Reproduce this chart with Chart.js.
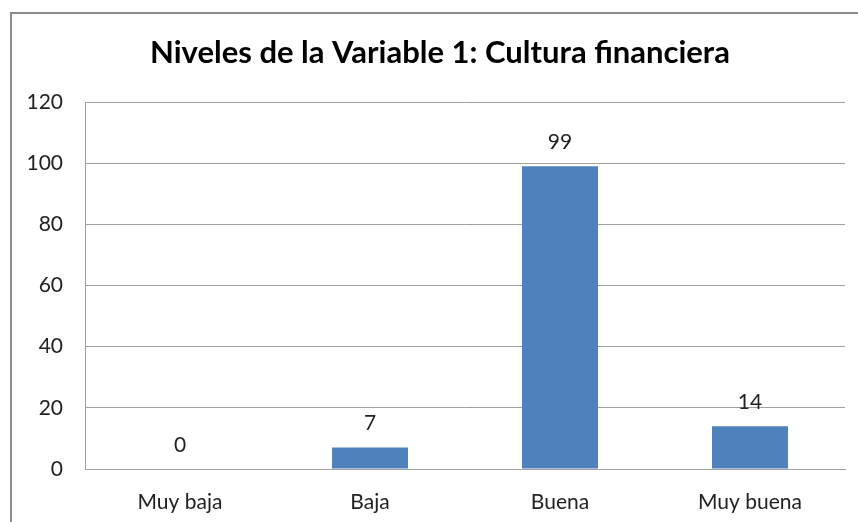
<!DOCTYPE html>
<html>
<head>
<meta charset="utf-8">
<script src="https://cdn.jsdelivr.net/npm/chart.js@4"></script>
<style>
  html, body { margin: 0; padding: 0; background: #fff; }
  #wrap { width: 858px; height: 522px; position: relative; }
</style>
</head>
<body>
<div id="wrap"><canvas id="chart" width="858" height="522"></canvas></div>
<script>
var categories = ['Muy baja', 'Baja', 'Buena', 'Muy buena'];
var values = [0, 7, 99, 14];
var yTicks = [0, 20, 40, 60, 80, 100, 120];
var chartTitle = 'Niveles de la Variable 1: Cultura financiera';

var fontFamily = 'Lato, "Open Sans", sans-serif';

// valores encima de cada barra
var barLabels = {
    id: 'barLabels',
    afterDatasetsDraw: function(chart){
        var c = chart.ctx;
        var meta = chart.getDatasetMeta(0);
        c.save();
        c.font = '21px ' + fontFamily;
        c.fillStyle = '#222';
        c.textAlign = 'center';
        c.textBaseline = 'middle';
        meta.data.forEach(function(bar, i){
            c.fillText(String(values[i]), bar.x, bar.y - 24);
        });
        c.restore();
    }
};

// marco (solo se ve arriba e izquierda) y titulo centrado en el marco
var frame = {
    id: 'frame',
    beforeDraw: function(chart){
        var c = chart.ctx;
        c.save();
        c.strokeStyle = '#8c8c8c';
        c.lineWidth = 2;
        c.beginPath();
        c.moveTo(11, 522);
        c.lineTo(11, 13);
        c.lineTo(858, 13);
        c.stroke();
        c.font = 'bold 31px ' + fontFamily;
        c.fillStyle = '#000';
        c.textAlign = 'center';
        c.textBaseline = 'middle';
        c.fillText(chartTitle, 440, 53);
        c.restore();
    }
};

new Chart(document.getElementById('chart'), {
    type: 'bar',
    data: {
        labels: categories,
        datasets: [{
            data: values,
            backgroundColor: '#4f81bd',
            borderWidth: 0,
            categoryPercentage: 1,
            barPercentage: 0.4
        }]
    },
    options: {
        responsive: false,
        animation: false,
        layout: { padding: { left: 0, right: 13, top: 102, bottom: 0 } },
        plugins: {
            legend: { display: false },
            tooltip: { enabled: false },
            title: { display: false }
        },
        scales: {
            x: {
                grid: { display: false, drawTicks: false },
                border: { color: '#a0a0a0' },
                ticks: { color: '#222', font: { family: fontFamily, size: 21 }, padding: 21 },
                afterFit: function(s){ s.height = 53; }
            },
            y: {
                min: 0,
                max: 120,
                afterBuildTicks: function(s){ s.ticks = yTicks.map(function(v){ return { value: v }; }); },
                grid: { color: '#a0a0a0', drawTicks: false },
                border: { color: '#a0a0a0' },
                ticks: { color: '#222', font: { family: fontFamily, size: 21 }, padding: 22 },
                afterFit: function(s){ s.width = 85; }
            }
        }
    },
    plugins: [frame, barLabels]
});
</script>
</body>
</html>
